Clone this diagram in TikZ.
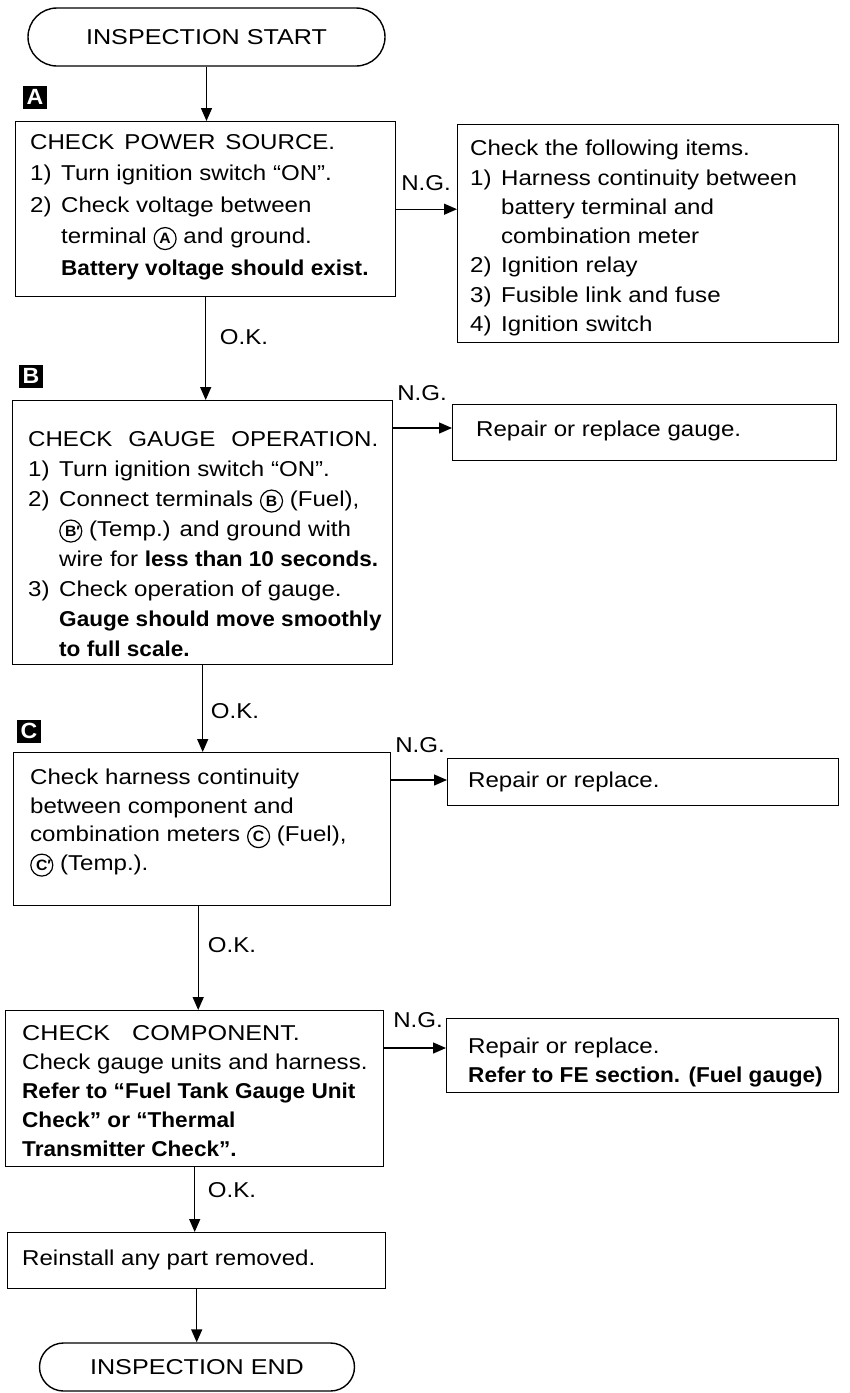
\documentclass[tikz,border=0pt]{standalone}
\usepackage{fontspec}
\setmainfont{Liberation Sans}[FakeStretch=1.12]
\newfontfamily\bfam{Liberation Sans}[FakeStretch=1.05]
\newfontfamily\capf{Liberation Sans}[FakeStretch=1.17]
\usetikzlibrary{arrows.meta,calc}
\newcommand\B[1]{{\bfam\bfseries #1}}
\newcommand\itm[1]{\makebox[31pt][l]{#1}}
\newcommand\ind{\hspace*{31pt}}
\newcommand\cl[2][]{\tikz[baseline=(cc.base)]\node[circle,draw,line width=1.2pt,inner sep=0pt,minimum size=22pt,font=\bfam\fontsize{15}{15}\selectfont\bfseries] (cc) {#2\rlap{#1}};}
\begin{document}
\begin{tikzpicture}[x=1pt,y=-1pt,
  box/.style={draw, line width=1.4pt, anchor=north west, inner sep=0pt},
  term/.style={draw, line width=1.4pt, inner sep=0pt, font=\capf\fontsize{21.5}{26}\selectfont},
  txt/.style={anchor=north west, align=left, inner sep=0pt, font=\fontsize{21.5}{29.5}\selectfont},
  lab/.style={fill=black, text=white, font=\bfam\fontsize{22}{22}\selectfont\bfseries, minimum width=24pt, minimum height=23pt, inner sep=0pt},
  small/.style={font=\fontsize{21.5}{26}\selectfont, inner sep=0pt},
  arr/.style={line width=1.4pt, -{Triangle[width=11pt,length=13pt]}}
  ]
\fill[white] (0,0) rectangle (850,1393);
\useasboundingbox (0,0) rectangle (850,1393);

\node[term, minimum width=357pt, minimum height=58pt, rounded corners=29pt] (start) at (206.5,37) {INSPECTION START};

% A
\node[lab] (labA) at (35,97) {A};
\node[box, minimum width=380pt, minimum height=175pt] (boxA) at (15,121) {};
\node[txt, font=\fontsize{21.5}{31.5}\selectfont] (tA) at (30,134) {CHECK\hspace{10pt}POWER\hspace{10pt}SOURCE.\\
\itm{1)}Turn ignition switch “ON”.\\
\itm{2)}Check voltage between\\
\ind terminal \cl{A} and ground.\\
\ind\B{Battery voltage should exist.}};
\node[box, minimum width=381pt, minimum height=218pt] (rA) at (457,124) {};
\node[txt, font=\fontsize{21.5}{29.3}\selectfont] (trA) at (470,140) {Check the following items.\\
\itm{1)}Harness continuity between\\
\ind battery terminal and\\
\ind combination meter\\
\itm{2)}Ignition relay\\
\itm{3)}Fusible link and fuse\\
\itm{4)}Ignition switch};
\node[small] (ngA) at (426,183) {N.G.};
\node[small] (okA) at (244,337) {O.K.};

% B
\node[lab] (labB) at (31,376) {B};
\node[box, minimum width=380pt, minimum height=264pt] (boxB) at (12,400) {};
\node[txt, font=\fontsize{21.5}{30}\selectfont] (tB) at (28,431) {CHECK\hspace{16pt}GAUGE\hspace{16pt}OPERATION.\\
\itm{1)}Turn ignition switch “ON”.\\
\itm{2)}Connect terminals \cl{B} (Fuel),\\
\ind\cl[′]{B} (Temp.) and ground with\\
\ind wire for \B{less than 10 seconds.}\\
\itm{3)}Check operation of gauge.\\
\ind\B{Gauge should move smoothly}\\
\ind\B{to full scale.}};
\node[box, minimum width=384pt, minimum height=56pt] (rB) at (452,404) {};
\node[small, anchor=west] (trB) at (476,431) {Repair or replace gauge.};
\node[small] (ngB) at (422,393) {N.G.};
\node[small] (okB) at (235,711) {O.K.};

% C
\node[lab] (labC) at (29,731) {C};
\node[box, minimum width=377pt, minimum height=153pt] (boxC) at (13,752) {};
\node[txt, font=\fontsize{21.5}{28.5}\selectfont] (tC) at (30,769) {Check harness continuity\\
between component and\\
combination meters \cl{C} (Fuel),\\
\cl[′]{C} (Temp.).};
\node[box, minimum width=391pt, minimum height=47pt] (rC) at (447,758) {};
\node[small, anchor=west] (trC) at (468,782) {Repair or replace.};
\node[small] (ngC) at (420,745) {N.G.};
\node[small] (okC) at (232,945) {O.K.};

% D
\node[box, minimum width=378pt, minimum height=156pt] (boxD) at (5,1010) {};
\node[txt, font=\fontsize{21.5}{29}\selectfont] (tD) at (22,1025) {{\capf CHECK\hspace{22pt}COMPONENT.}\\
Check gauge units and harness.\\
\B{Refer to “Fuel Tank Gauge Unit}\\
\B{Check” or “Thermal}\\
\B{Transmitter Check”.}};
\node[box, minimum width=392pt, minimum height=74pt] (rD) at (446,1018) {};
\node[txt, font=\fontsize{21.5}{29}\selectfont] (trD) at (468,1038) {Repair or replace.\\
\B{Refer to FE section. (Fuel gauge)}};
\node[small] (ngD) at (418,1020) {N.G.};
\node[small] (okD) at (232,1190) {O.K.};

% E
\node[box, minimum width=378pt, minimum height=56pt] (boxE) at (7,1232) {};
\node[small, anchor=west] (tE) at (22,1260) {Reinstall any part removed.};
\node[term, minimum width=315pt, minimum height=48pt, rounded corners=24pt] (finish) at (197,1367) {INSPECTION END};

% connectors
\draw[arr] (start.south) -- (start.south |- boxA.north);
\draw[arr] (boxA.east) -- (boxA.east -| rA.west);
\draw[arr] (boxA.south) -- (boxA.south |- boxB.north);
\coordinate (b1) at ($(boxB.north east)+(0,28)$);
\draw[arr] (b1) -- (b1 -| rB.west);
\draw[arr] (boxB.south) -- (boxB.south |- boxC.north);
\coordinate (c1) at ($(boxC.north east)+(0,28)$);
\draw[arr] (c1) -- (c1 -| rC.west);
\coordinate (c2) at ($(boxC.south)+(-4,0)$);
\draw[arr] (c2) -- (c2 |- boxD.north);
\coordinate (d1) at ($(boxD.north east)+(0,38)$);
\draw[arr] (d1) -- (d1 -| rD.west);
\draw[arr] (boxD.south) -- (boxD.south |- boxE.north);
\draw[arr] (boxE.south) -- (boxE.south |- finish.north);
\end{tikzpicture}
\end{document}
